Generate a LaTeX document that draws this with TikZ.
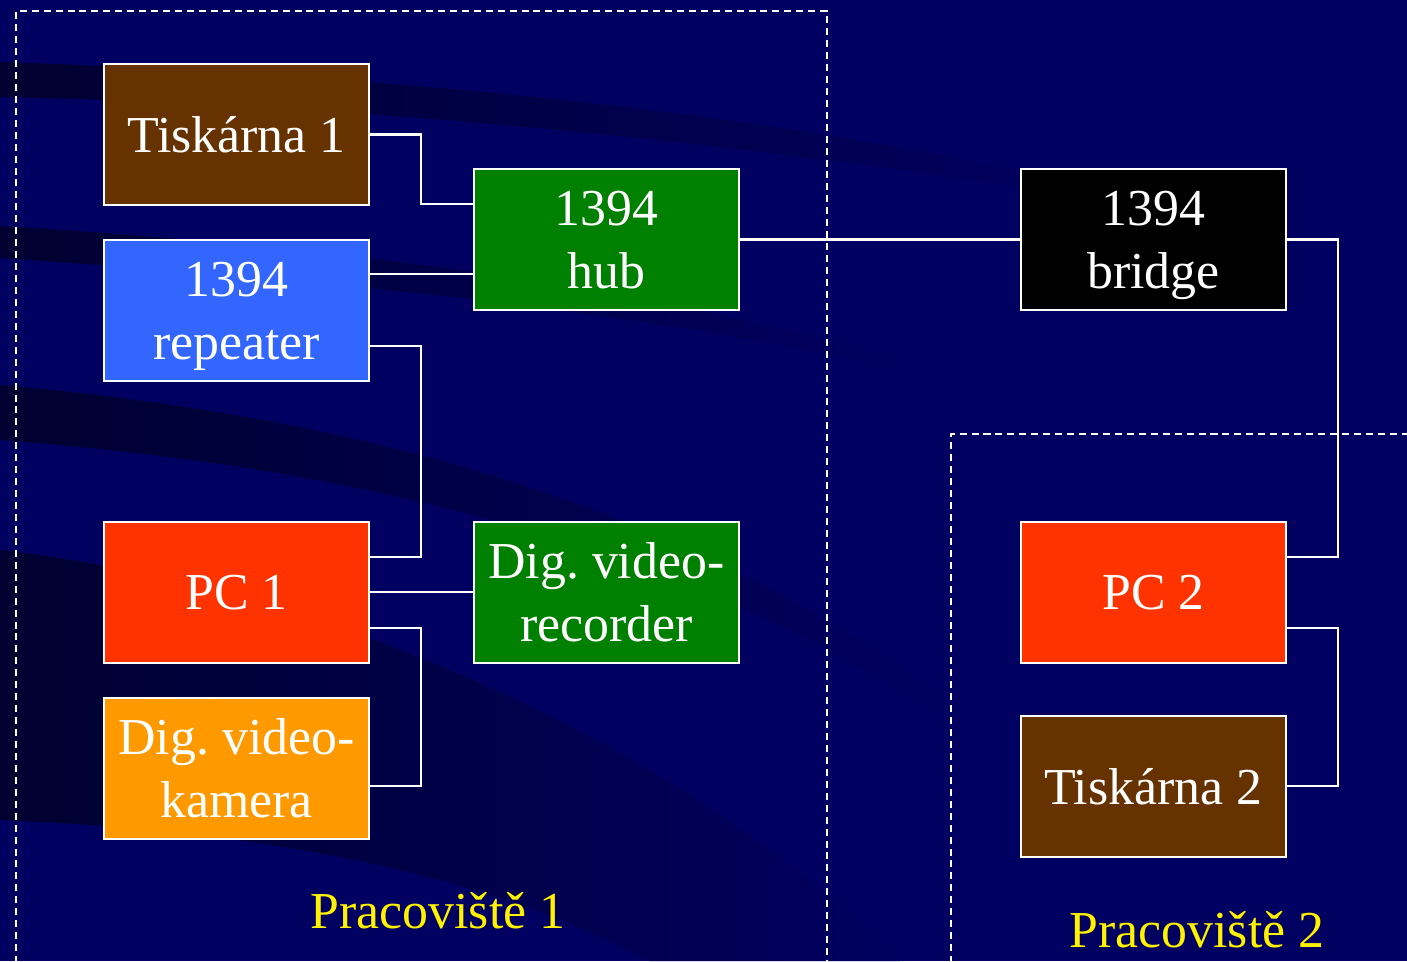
\documentclass[tikz,border=0pt]{standalone}
\usepackage{fontspec}
\setmainfont{Liberation Serif}
\usetikzlibrary{positioning, calc}
\definecolor{navy}{HTML}{000060}
\definecolor{bandc}{HTML}{000030}
\definecolor{brown1}{HTML}{663300}
\definecolor{blue1}{HTML}{3366FF}
\definecolor{green1}{HTML}{008000}
\definecolor{red1}{HTML}{FF3300}
\definecolor{orange1}{HTML}{FF9900}
\frenchspacing
\begin{document}
\begin{tikzpicture}[
  x=0.02cm, y=-0.02cm,
  device/.style={draw=white, line width=1.2pt, outer sep=0pt, inner sep=0pt, minimum width=5.3cm, minimum height=2.82cm, align=center, text=white, text depth=-1pt, font=\fontsize{29.5}{35.8}\selectfont},
  wire/.style={draw=white, line width=1.2pt},
  area/.style={draw=white, line width=1.1pt, dash pattern=on 4pt off 2.8pt},
  arealabel/.style={text=yellow, anchor=base, inner sep=0pt, font=\fontsize{29.5}{35.8}\selectfont},
  band/.style={left color=bandc, right color=navy, draw=none}
]
\useasboundingbox (0,0) rectangle (1407,961);
\clip (0,0) rectangle (1407,961);
\fill[navy] (0,0) rectangle (1407,961);
\shade[band] (0,62) .. controls (400,75) and (800,115) .. (1100,190) -- (1100,200) .. controls (800,150) and (400,105) .. (0,97) -- cycle;
\shade[band] (0,226) .. controls (400,250) and (700,300) .. (900,360) -- (900,372) .. controls (700,320) and (400,285) .. (0,258) -- cycle;
\shade[band] (0,385) .. controls (400,420) and (700,520) .. (950,700) -- (950,720) .. controls (700,560) and (400,470) .. (0,440) -- cycle;
\shade[band] (0,550) .. controls (350,590) and (700,760) .. (900,961) -- (650,961) .. controls (480,870) and (250,830) .. (0,820) -- cycle;

\draw[area] (16,975) -- (16,11) -- (827,11) -- (827,975);
\draw[area] (951,975) -- (951,434) -- (1420,434);

\node[device, fill=brown1] (tisk1) at (236.5,134.5) {Tiskárna 1};
\node[device, fill=blue1, below=7mm of tisk1] (rep) {1394\\repeater};
\node[device, fill=red1, below=28.2mm of rep] (pc1) {PC 1};
\node[device, fill=orange1, below=7mm of pc1] (kam) {Dig. video-\\kamera};
\node[device, fill=green1, right=21mm of pc1] (rec) {Dig. video-\\recorder};
\node[device, fill=green1, above=42.4mm of rec] (hub) {1394\\hub};
\node[device, fill=black, right=56.4mm of hub] (bridge) {1394\\bridge};
\node[device, fill=red1, right=56.4mm of rec] (pc2) {PC 2};
\node[device, fill=brown1, below=10.6mm of pc2] (tisk2) {Tiskárna 2};

\draw[wire] (tisk1.east) -- ++(1.04cm,0) |- ([yshift=7.1mm]hub.west);
\coordinate (hubin) at ([yshift=-6.9mm]hub.west);
\draw[wire] (hubin) -- (hubin -| rep.east);
\draw[wire] ([yshift=-7.1mm]rep.east) -- ++(1.04cm,0) |- ([yshift=7.1mm]pc1.east);
\draw[wire] (pc1.east) -- (rec.west);
\draw[wire] ([yshift=-7.1mm]pc1.east) -- ++(1.04cm,0) |- ([yshift=-3.5mm]kam.east);
\draw[wire] (hub.east) -- (bridge.west);
\draw[wire] (bridge.east) -- ++(1.04cm,0) |- ([yshift=7.1mm]pc2.east);
\draw[wire] ([yshift=-7.1mm]pc2.east) -- ++(1.04cm,0) |- (tisk2.east);

\node[arealabel] (lab1) at (438,928) {Pracoviště 1};
\node[arealabel] (lab2) at (1197,947) {Pracoviště 2};
\end{tikzpicture}
\end{document}
